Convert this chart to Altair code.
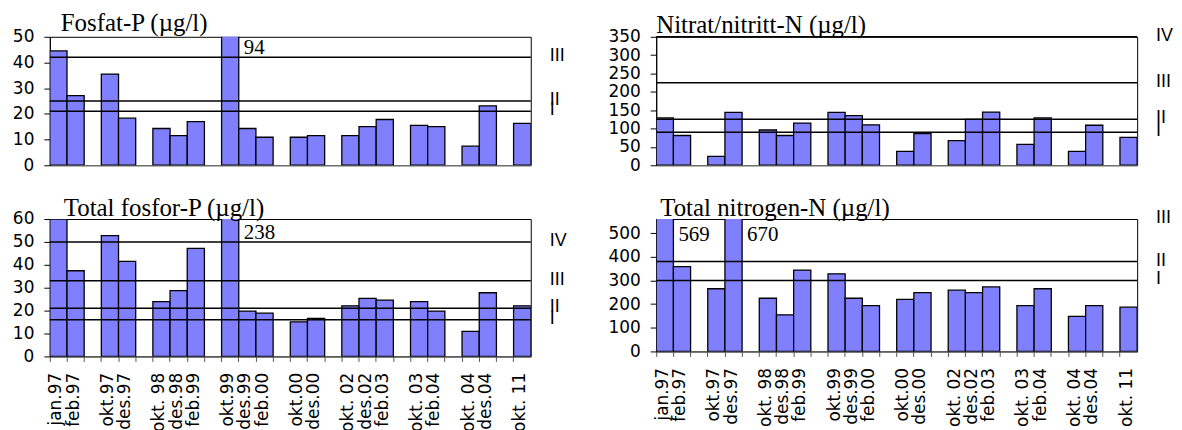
import altair as alt
import pandas as pd

# x slots (underscore entries are empty gap categories)
slots = ["jan.97", "feb.97", "_g1", "okt.97", "des.97", "_g2",
         "okt. 98", "des.98", "feb.99", "_g3", "okt.99", "des.99", "feb.00", "_g4",
         "okt.00", "des.00", "_g5", "okt. 02", "des.02", "feb.03", "_g6",
         "okt. 03", "feb.04", "_g7", "okt. 04", "des.04", "_g8", "okt. 11"]
dates = [s for s in slots if not s.startswith("_")]

fosfat = [44.5, 27.1, 35.5, 18.3, 14.3, 11.5, 17.0, 94, 14.3, 10.9,
          10.9, 11.5, 11.5, 15.0, 17.8, 15.5, 15.0, 7.4, 23.1, 16.3]
nitrat = [129, 81, 24, 144, 96, 81, 115, 144, 135, 110,
          38, 86, 67, 125, 145, 57, 129, 38, 109, 76]
totp = [60, 37.4, 52.7, 41.5, 23.9, 28.7, 47.2, 238, 19.8, 18.9,
        15.1, 16.6, 22.1, 25.3, 24.6, 23.9, 19.8, 10.9, 27.8, 22.1]
totn = [569, 359, 265, 670, 225, 155, 344, 328, 225, 194,
        220, 249, 259, 249, 273, 194, 265, 148, 194, 187]

# class limit lines and class labels
fosfat_lines = [42, 25, 21]
fosfat_cls = ["III", "II", "I"]
nitrat_lines = [350, 225, 125, 90]
nitrat_cls = ["IV", "III", "II", "I"]
totp_lines = [50, 33, 21, 16]
totp_cls = ["IV", "III", "II", "I"]
totn_lines = [380, 300]
totn_cls_pos = [560, 380, 300]
totn_cls = ["III", "II", "I"]

BAR = "#8080FF"
W = 483


def panel(title, values, ymax, ystep, lines, cls_pos, cls_txt, h, bottom,
          tdx, tdy, note_y):
    df = pd.DataFrame({"cat": dates, "v": values})
    xscale = alt.Scale(domain=slots, paddingInner=0, paddingOuter=0)
    if bottom:
        xaxis = alt.Axis(title=None, labelAngle=270, labelAlign="right",
                         labelBaseline="middle", labelFont="DejaVu Sans",
                         labelFontSize=17, labelColor="black",
                         tickColor="#555555", tickSize=5, domainColor="#555555",
                         bandPosition=0, labelOffset=-2, labelPadding=11,
                         labelOverlap=False,
                         labelExpr="indexof(datum.label, '_') == 0 ? '' : datum.label")
    else:
        xaxis = alt.Axis(title=None, labels=False, ticks=False,
                         domainColor="#808080")
    yscale = alt.Scale(domain=[0, ymax], nice=False, zero=True)
    yaxis = alt.Axis(title=None, values=list(range(0, ymax + 1, ystep)),
                     grid=False, domainColor="black", tickColor="black",
                     tickSize=6, labelPadding=10, labelFont="DejaVu Sans",
                     labelFontSize=17, labelColor="black", labelOverlap=False)
    X = alt.X("cat:N", scale=xscale, axis=xaxis, sort=slots)
    Y = alt.Y("v:Q", scale=yscale, axis=yaxis)
    bars = alt.Chart(df).mark_bar(clip=True, fill=BAR, stroke="black",
                                  strokeWidth=1.3).encode(x=X, y=Y)
    rules = alt.Chart(pd.DataFrame({"v": lines})).mark_rule(
        color="black", strokeWidth=1.5).encode(y=Y)
    cls = alt.Chart(pd.DataFrame({"v": cls_pos, "t": cls_txt})).mark_text(
        align="left", baseline="middle", dy=-1, font="Liberation Sans",
        fontSize=18, color="black").encode(
        y=Y, x=alt.value(W + 19), text="t:N")
    notes = df[df.v > ymax]
    note = alt.Chart(notes).mark_text(
        align="left", baseline="middle", dx=5, font="Liberation Serif",
        fontSize=21, color="black").encode(
        x=alt.X("cat:N", scale=xscale, axis=xaxis, sort=slots, bandPosition=1),
        y=alt.value(note_y), text=alt.Text("v:Q", format="d"))
    ttl = alt.Chart(pd.DataFrame({"t": [title]})).mark_text(
        align="left", baseline="alphabetic", font="Liberation Serif",
        fontSize=25, color="black").encode(
        x=alt.value(tdx), y=alt.value(tdy), text="t:N")
    return alt.layer(bars, rules, cls, note, ttl).properties(width=W, height=h)


tl = panel("Fosfat-P (µg/l)", fosfat, 50, 10, fosfat_lines, fosfat_lines,
           fosfat_cls, 129, False, 11, -6, 11)
tr = panel("Nitrat/nitritt-N (µg/l)", nitrat, 350, 50, nitrat_lines,
           nitrat_lines, nitrat_cls, 129, False, 0, -4, 11)
bl = panel("Total fosfor-P (µg/l)", totp, 60, 10, totp_lines, totp_lines,
           totp_cls, 138, True, 14, -3, 14)
br = panel("Total nitrogen-N (µg/l)", totn, 560, 100, totn_lines,
           totn_cls_pos, totn_cls, 133, True, 4, -3, 16)

chart = alt.concat(tl, tr, bl, br, columns=2,
                   spacing={"row": 54, "column": 126},
                   bounds="flush").configure_view(
    stroke="black", strokeWidth=1).properties(
    padding={"left": 3, "top": 1, "right": 0, "bottom": 0})

chart.save("out.html", embed_options={"renderer": "svg", "actions": False})
